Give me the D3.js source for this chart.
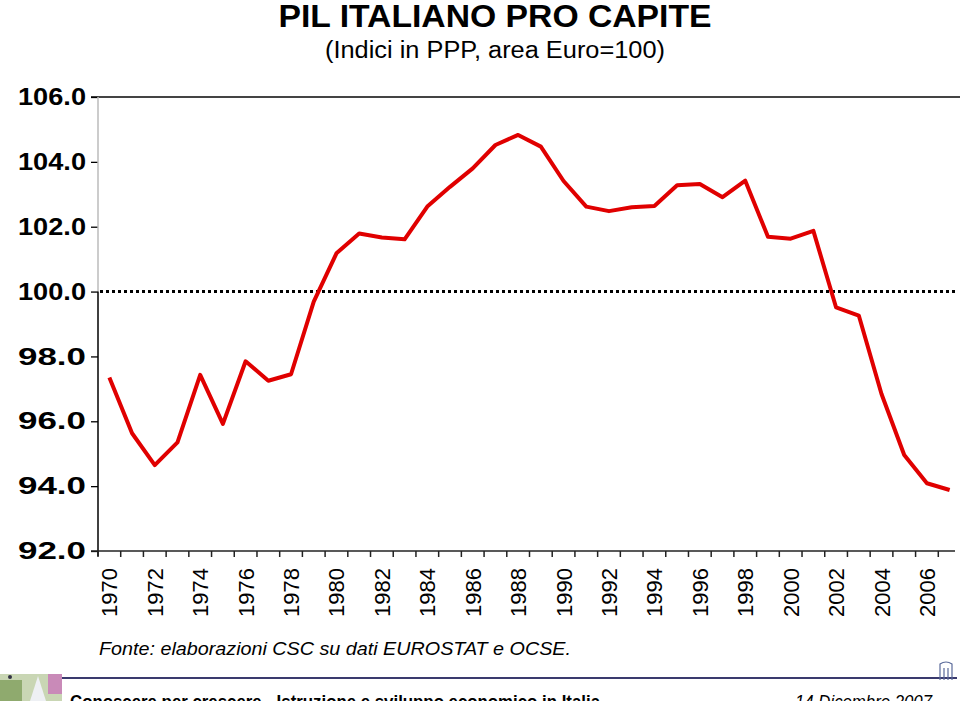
<!DOCTYPE html>
<html><head><meta charset="utf-8">
<script src="https://cdn.jsdelivr.net/npm/d3@7"></script>
<style>body{margin:0;background:#fff}svg{display:block}</style>
</head><body>
<svg id="c" width="960" height="701"></svg>
<script>
const years = [1970,1971,1972,1973,1974,1975,1976,1977,1978,1979,1980,1981,1982,1983,1984,1985,1986,1987,1988,1989,1990,1991,1992,1993,1994,1995,1996,1997,1998,1999,2000,2001,2002,2003,2004,2005,2006,2007];
const values = [97.35,95.63,94.65,95.35,97.43,95.92,97.85,97.25,97.45,99.69,101.18,101.79,101.67,101.61,102.62,103.23,103.80,104.52,104.83,104.47,103.41,102.62,102.48,102.60,102.64,103.28,103.32,102.91,103.42,101.69,101.63,101.87,99.51,99.26,96.84,94.96,94.09,93.88];
const yTicks = [92,94,96,98,100,102,104,106];
const xLabels = [1970,1972,1974,1976,1978,1980,1982,1984,1986,1988,1990,1992,1994,1996,1998,2000,2002,2004,2006];
const refValue = 100;
const title = "PIL ITALIANO PRO CAPITE";
const subtitle = "(Indici in PPP, area Euro=100)";
const source = "Fonte: elaborazioni CSC su dati EUROSTAT e OCSE.";
const footerLeft = "Conoscere per crescere - Istruzione e sviluppo economico in Italia";
const footerRight = "14 Dicembre 2007";

const svg = d3.select("#c");
const F = "'Liberation Sans', Arial, sans-serif";
const L = 98, R = 961, T = 97, B = 551;

const x = d3.scaleBand().domain(years).range([L, R]);
const y = d3.scaleLinear().domain([92, 106]).range([B, T]);

// titles
svg.append("text").attr("x", 495).attr("y", 27).attr("text-anchor", "middle")
  .attr("font-family", F).attr("font-weight", "bold").attr("font-size", 31)
  .attr("textLength", 433).attr("lengthAdjust", "spacingAndGlyphs").text(title);
svg.append("text").attr("x", 495).attr("y", 58).attr("text-anchor", "middle")
  .attr("font-family", F).attr("font-size", 23)
  .attr("textLength", 340).attr("lengthAdjust", "spacingAndGlyphs").text(subtitle);

// top line (106)
svg.append("line").attr("x1", L - 7).attr("x2", 960).attr("y1", y(106)).attr("y2", y(106))
  .attr("stroke", "#444").attr("stroke-width", 2);

// y axis
const yAxis = d3.axisLeft(y).tickValues(yTicks).tickSize(7).tickFormat(d3.format(".1f"));
const gy = svg.append("g").attr("transform", `translate(${L},0)`).call(yAxis);
gy.select(".domain").remove();
gy.selectAll(".tick line").attr("stroke", "#000").attr("stroke-width", 1.3);
gy.selectAll(".tick text").attr("font-family", F).attr("font-weight", "bold")
  .attr("font-size", 24).attr("x", -12).attr("fill", "#000")
  .attr("textLength", 68).attr("lengthAdjust", "spacingAndGlyphs");
svg.append("line").attr("x1", L).attr("x2", L).attr("y1", y(106)).attr("y2", y(100))
  .attr("stroke", "#bbb").attr("stroke-width", 1.5);
svg.append("line").attr("x1", L).attr("x2", L).attr("y1", y(100)).attr("y2", B + 5)
  .attr("stroke", "#000").attr("stroke-width", 1.5);

// x axis
const tickPos = years.map(d => x(d)).concat([x(years[years.length - 1]) + x.bandwidth()]);
svg.append("line").attr("x1", L - 7).attr("x2", 955).attr("y1", B).attr("y2", B)
  .attr("stroke", "#222").attr("stroke-width", 1.5);
svg.append("g").selectAll("line").data(tickPos.filter(p => p <= 955)).join("line")
  .attr("x1", d => d).attr("x2", d => d).attr("y1", B).attr("y2", B + 6)
  .attr("stroke", "#222").attr("stroke-width", 1.5);
svg.append("g").selectAll("text").data(xLabels).join("text")
  .attr("transform", d => `translate(${x(d) + x.bandwidth() / 2 + 8},617) rotate(-90)`)
  .attr("font-family", F).attr("font-size", 22).attr("fill", "#000").text(d => d);

// reference line at 100
svg.append("line").attr("x1", L + 2).attr("x2", 956).attr("y1", y(refValue)).attr("y2", y(refValue))
  .attr("stroke", "#000").attr("stroke-width", 3).attr("stroke-dasharray", "3,3");

// data line
const line = d3.line().x((d, i) => x(years[i]) + x.bandwidth() / 2).y(d => y(d));
svg.append("path").datum(values).attr("d", line).attr("fill", "none")
  .attr("stroke", "#e00000").attr("stroke-width", 4).attr("stroke-linejoin", "round");

// source
svg.append("text").attr("x", 99).attr("y", 655).attr("font-family", F)
  .attr("font-style", "italic").attr("font-size", 19)
  .attr("textLength", 472).attr("lengthAdjust", "spacingAndGlyphs").text(source);

// footer
svg.append("line").attr("x1", 30).attr("x2", 957).attr("y1", 678).attr("y2", 678)
  .attr("stroke", "#3a3a6e").attr("stroke-width", 2);
const logo = svg.append("g");
logo.append("rect").attr("x", 0).attr("y", 674).attr("width", 62).attr("height", 27).attr("fill", "#c9d6b4");
logo.append("rect").attr("x", 0).attr("y", 680).attr("width", 22).attr("height", 21).attr("fill", "#8faa6e");
logo.append("path").attr("d", "M30,701 L38,676 L46,701 Z").attr("fill", "#eef0f4");
logo.append("rect").attr("x", 48).attr("y", 674).attr("width", 14).attr("height", 20).attr("fill", "#c98ab8");
logo.append("circle").attr("cx", 10).attr("cy", 677).attr("r", 2).attr("fill", "#334");
svg.append("text").attr("x", 70).attr("y", 708).attr("font-family", F).attr("font-weight", "bold")
  .attr("font-size", 19).attr("fill", "#000").attr("textLength", 530).attr("lengthAdjust", "spacingAndGlyphs").text(footerLeft);
svg.append("text").attr("x", 795).attr("y", 708).attr("font-family", F).attr("font-style", "italic")
  .attr("font-size", 19).attr("fill", "#000").attr("textLength", 137).attr("lengthAdjust", "spacingAndGlyphs").text(footerRight);
svg.append("path").attr("d", "M940,680 L940,664 Q946,660 952,664 L952,680 M944,668 L944,680 M948,668 L948,680")
  .attr("fill", "none").attr("stroke", "#5a6a9a").attr("stroke-width", 1.2);
</script>
</body></html>
